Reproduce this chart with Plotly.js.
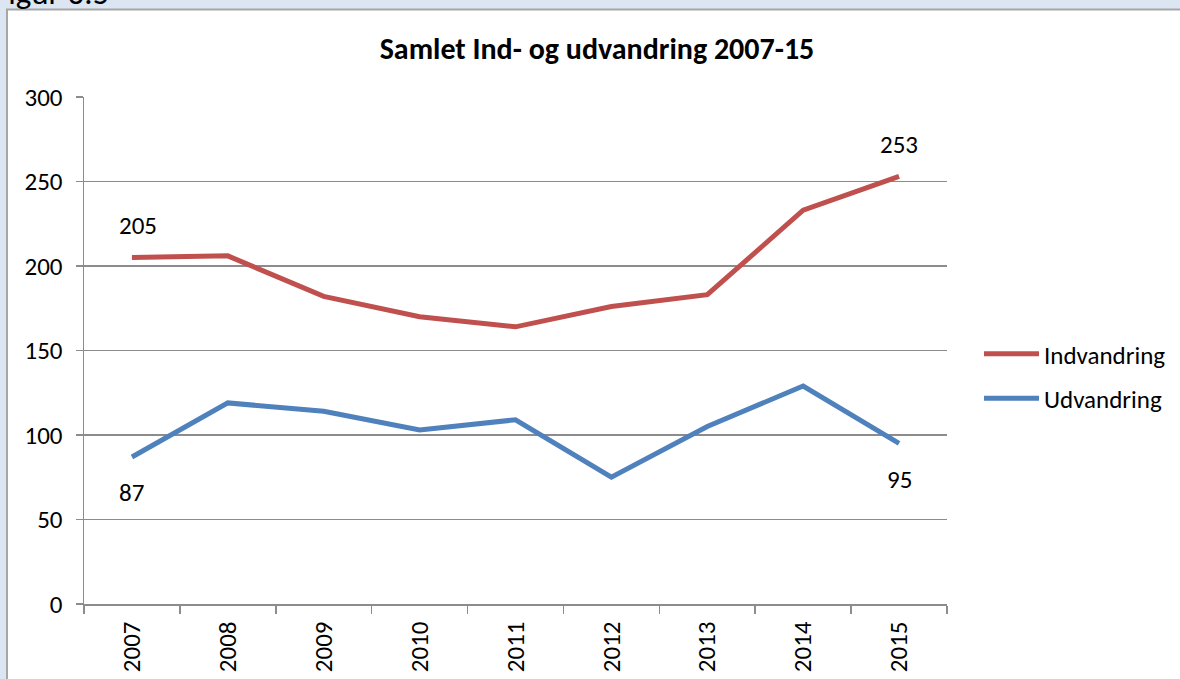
<!DOCTYPE html>
<html>
<head>
<meta charset="utf-8">
<script src="https://cdn.plot.ly/plotly-3.0.1.min.js"></script>
<style>html,body{margin:0;padding:0;background:#dce6f2;}#chart{width:1180px;height:679px;}</style>
</head>
<body>
<div id="chart"></div>
<script>
const years = ['2007','2008','2009','2010','2011','2012','2013','2014','2015'];
const indvandring = [205, 206, 182, 170, 164, 176, 183, 233, 253];
const udvandring = [87, 119, 114, 103, 109, 75, 105, 129, 95];
const yTicks = [0, 50, 100, 150, 200, 250, 300];
const seriesNames = ['Indvandring', 'Udvandring'];
const chartTitle = 'Samlet Ind- og udvandring 2007-15';
const figureLabel = 'Figur 6.5';

const FONT = 'Calibri, Carlito, Lato, "Open Sans", sans-serif';
const RED = '#c0504d';
const BLUE = '#4f81bd';
const GRID = '#8c8c8c';
const FS = 25;

const traces = [
  {x: years, y: indvandring, name: seriesNames[0], type: 'scatter', mode: 'lines',
   line: {color: RED, width: 5}, legendgroup: 'a'},
  {x: years, y: udvandring, name: seriesNames[1], type: 'scatter', mode: 'lines',
   line: {color: BLUE, width: 5}, legendgroup: 'b'}
];

const labelIdx = [0, years.length - 1];
const annotations = [];
labelIdx.forEach(i => {
  annotations.push({x: i, y: indvandring[i], xref: 'x', yref: 'y', text: String(indvandring[i]),
    showarrow: false, yshift: 32, xshift: i === 0 ? 6 : 0, font: {family: FONT, size: FS, color: '#000'}});
  annotations.push({x: i, y: udvandring[i], xref: 'x', yref: 'y', text: String(udvandring[i]),
    showarrow: false, yshift: -36, font: {family: FONT, size: FS, color: '#000'}});
});

// plot area px: left 84, right 947, top 97, bottom 604
const L = 84, R = 947, T = 97, B = 604, W = 1180, H = 679;
const px2x = p => (p - L) / (R - L);
const px2y = p => (B - p) / (B - T);

annotations.push({xref: 'paper', yref: 'paper', x: px2x(-9), y: px2y(15), xanchor: 'left', yanchor: 'bottom',
  text: figureLabel, showarrow: false, font: {family: FONT, size: 33, color: '#000'}});

const layout = {
  width: W, height: H,
  margin: {l: L, r: W - R, t: T, b: H - B, pad: 0, autoexpand: false},
  paper_bgcolor: '#dce6f2',
  plot_bgcolor: '#ffffff',
  font: {family: FONT, size: FS, color: '#000'},
  title: {text: '<b>' + chartTitle + '</b>', font: {family: FONT, size: 30, color: '#000'},
    xref: 'container', x: 597 / W, xanchor: 'center', yref: 'container', y: 1 - 48 / H, yanchor: 'middle'},
  shapes: [{type: 'rect', xref: 'paper', yref: 'paper', layer: 'below',
    x0: px2x(7), x1: px2x(1200), y0: px2y(700), y1: px2y(9.5),
    fillcolor: '#ffffff', line: {color: '#a6a6a6', width: 2}}],
  xaxis: {type: 'category', range: [-0.5, years.length - 0.5], tickson: 'boundaries',
    ticks: 'outside', ticklen: 8, tickwidth: 1.5, tickcolor: GRID,
    showline: true, linecolor: GRID, linewidth: 1.5, showgrid: false, automargin: false,
    tickangle: -90, ticklabelstandoff: 6, tickfont: {family: FONT, size: FS, color: '#000'}, fixedrange: true},
  yaxis: {range: [0, 300], tickvals: yTicks, ticks: 'outside', ticklen: 7, tickwidth: 1.5, tickcolor: GRID,
    showline: true, linecolor: GRID, linewidth: 1.5, showgrid: true, gridcolor: GRID, gridwidth: 1.5,
    zeroline: false, automargin: false, ticklabelstandoff: 8, tickfont: {family: FONT, size: FS, color: '#000'}, fixedrange: true},
  legend: {x: px2x(979), y: px2y(331), xanchor: 'left', yanchor: 'top', bgcolor: 'rgba(0,0,0,0)',
    traceorder: 'grouped', tracegroupgap: 9, itemwidth: 55, font: {family: FONT, size: FS, color: '#000'}},
  showlegend: true,
  annotations: annotations
};

Plotly.newPlot('chart', traces, layout, {displayModeBar: false, staticPlot: true});
</script>
</body>
</html>
